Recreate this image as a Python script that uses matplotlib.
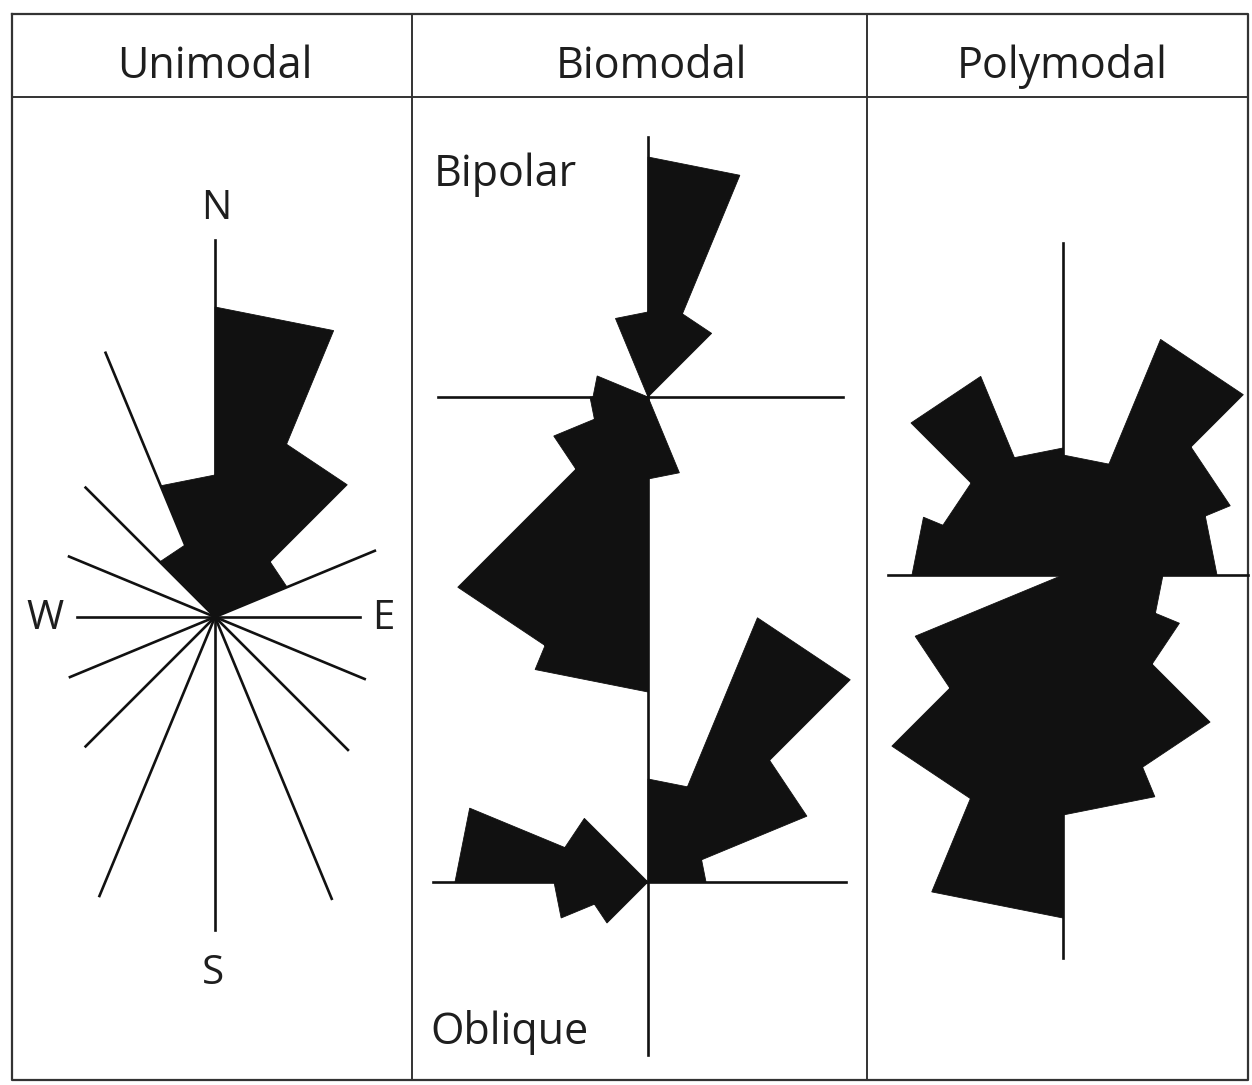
import numpy as np
import matplotlib.pyplot as plt

plt.rcParams['font.family'] = ['Open Sans', 'DejaVu Sans']

W, H = 1252, 1085

headers = ['Unimodal', 'Biomodal', 'Polymodal']
bearings = np.arange(16) * 22.5   # sector start, clockwise from north

# radius of each 22.5 deg sector (pixels)
unimodal = [310, 187, 78, 0, 0, 0, 0, 0, 0, 0, 0, 0, 0, 0, 78, 142]
unimodal_spokes = [377, 0, 0, 173, 145, 162, 188, 305, 313, 302, 183, 157, 138, 158, 183, 286]
bipolar = [240, 90, 0, 0, 0, 0, 0, 82, 295, 269, 102, 58, 55, 0, 0, 85]
oblique = [103, 286, 172, 58, 0, 0, 0, 0, 0, 0, 58, 94, 193, 90, 0, 0]
polymodal = [120, 255, 181, 154, 100, 126, 208, 240, 343, 242, 160, 0, 151, 130, 215, 127]
compass = ['N', 'E', 'S', 'W']

ink = '#111111'
frame = '#333333'
txt = '#1e1e1e'


def pt(cx, cy, r, b):
    a = np.radians(b)
    return cx + r * np.sin(a), cy - r * np.cos(a)


def rose(ax, cx, cy, radii):
    xs, ys = [cx], [cy]
    for b, r in zip(bearings, radii):
        if r <= 0:
            continue
        x0, y0 = pt(cx, cy, r, b)
        x1, y1 = pt(cx, cy, r, b + 22.5)
        xs += [x0, x1, cx]
        ys += [y0, y1, cy]
    ax.fill(xs, ys, color=ink, lw=0.6, ec=ink, zorder=3)


fig = plt.figure(figsize=(W / 100, H / 100), dpi=100)
ax = fig.add_axes([0, 0, 1, 1])
ax.set_xlim(0, W)
ax.set_ylim(H, 0)
ax.axis('off')

# table frame
left, right, top, bottom = 12, 1248, 14, 1080
cols = [412, 867]
ax.plot([left, right, right, left, left], [top, top, bottom, bottom, top], color=frame, lw=1.6)
ax.plot([left, right], [97, 97], color=frame, lw=1.4)
for c in cols:
    ax.plot([c, c], [top, bottom], color=frame, lw=1.4)

for x, t in zip([215, 651, 1062], headers):
    ax.text(x, 78, t, fontsize=31, ha='center', va='baseline', color=txt, fontweight='medium')

# unimodal
cx, cy = 215, 617
for b, L in zip(bearings, unimodal_spokes):
    if L > 0:
        x1, y1 = pt(cx, cy, L, b)
        ax.plot([cx, x1], [cy, y1], color=ink, lw=1.9, zorder=2)
rose(ax, cx, cy, unimodal)
for lab, (x, y, va) in zip(compass, [(216, 219, 'baseline'), (383, 619, 'center'),
                                      (213, 984, 'baseline'), (45, 619, 'center')]):
    ax.text(x, y, lab, fontsize=29, ha='center', va=va, color=txt, fontweight='medium')

# biomodal
bx = 648
ax.plot([bx, bx], [137, 1055], color=ink, lw=1.9, zorder=2)
ax.plot([438, 843], [397, 397], color=ink, lw=1.9, zorder=2)
ax.plot([433, 846], [882, 882], color=ink, lw=1.9, zorder=2)
rose(ax, bx, 397, bipolar)
rose(ax, bx, 882, oblique)
ax.text(434, 186, 'Bipolar', fontsize=31, ha='left', va='baseline', color=txt, fontweight='medium')
ax.text(430, 1044, 'Oblique', fontsize=31, ha='left', va='baseline', color=txt, fontweight='medium')

# polymodal
px, py = 1063, 575
ax.plot([px, px], [243, 958], color=ink, lw=1.9, zorder=2)
ax.plot([888, 1248], [py, py], color=ink, lw=1.9, zorder=2)
rose(ax, px, py, polymodal)

fig.savefig('out.png', dpi=100, facecolor='white')
